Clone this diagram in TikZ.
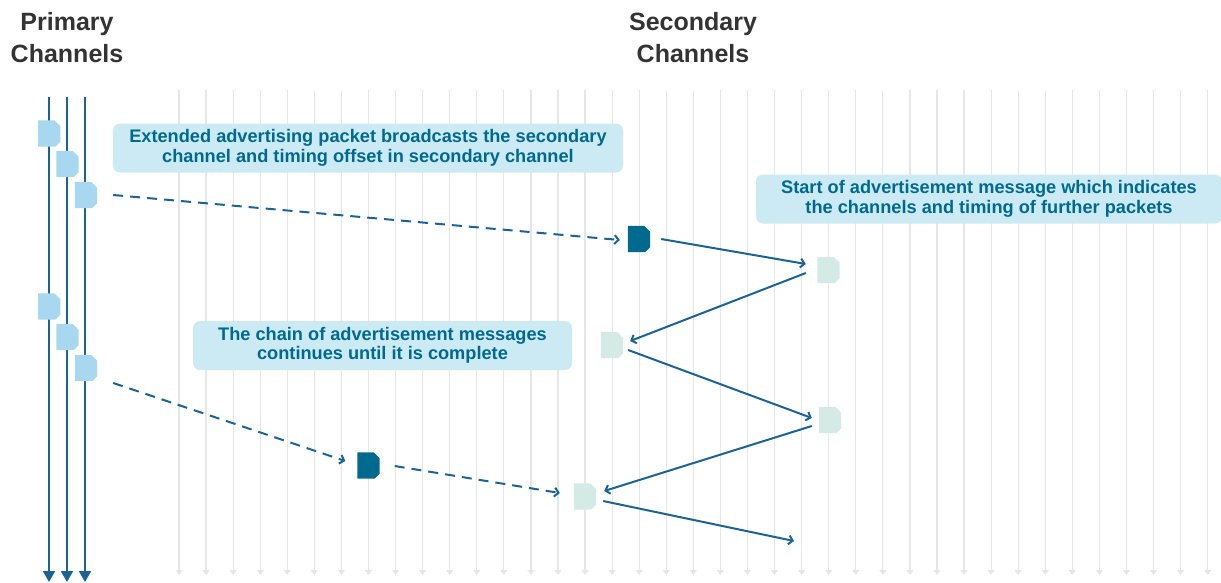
\documentclass[tikz,border=0pt]{standalone}
\usepackage{fontspec}
\setmainfont{Liberation Sans}
\usetikzlibrary{arrows.meta}
\definecolor{hdr}{HTML}{333333}
\definecolor{txtblue}{HTML}{00698F}
\definecolor{boxfill}{HTML}{CCEAF4}
\definecolor{lineblue}{HTML}{1B6397}
\definecolor{gridgrey}{HTML}{E6E6E6}
\definecolor{pktlight}{HTML}{A8D8F0}
\definecolor{pktgreen}{HTML}{D3EAE5}
\definecolor{pktdark}{HTML}{006A8E}
\begin{document}
\begin{tikzpicture}[x=1pt,y=-1pt,
  pkt/.style={rectangle, inner sep=0pt, minimum width=22pt, minimum height=26pt, draw=none},
  gridline/.style={draw=gridgrey, line width=1.2pt, -{Triangle[length=5pt,width=7pt]}},
  primline/.style={draw=lineblue, line width=2pt, -{Triangle[length=11pt,width=12pt]}},
  msg/.style={draw=lineblue, line width=2pt, -{Straight Barb[length=4pt,width=9pt]}},
  dmsg/.style={msg, dash pattern=on 10pt off 7pt},
  note/.style={fill=boxfill, rounded corners=7pt, text=txtblue, font=\bfseries\fontsize{18.2}{19.5}\selectfont,
    align=center, inner sep=0pt, minimum height=49pt},
  header/.style={text=hdr, font=\bfseries\fontsize{25}{32}\selectfont, align=center}
]
\useasboundingbox (0,0) rectangle (1221,582);

% headers
\node[header] (hp) at (67,38) {Primary\\Channels};
\node[header] (hs) at (693,38) {Secondary\\Channels};

% grid lines
\foreach \i in {0,...,38} {
  \coordinate (gt\i) at ({179+27.07*\i},90);
  \coordinate (gb\i) at ({179+27.07*\i},575);
  \draw[gridline] (gt\i) -- (gb\i);
}

% primary channel lines
\foreach \x [count=\k] in {49,67,85} {
  \coordinate (pt\k) at (\x,97);
  \coordinate (pb\k) at (\x,582);
  \draw[primline] (pt\k) -- (pb\k);
}

% notes
\node[note, minimum width=510pt] (n1) at (368,148) {Extended advertising packet broadcasts the secondary\\channel and timing offset in secondary channel};
\node[note, minimum width=466pt] (n2) at (989,199) {Start of advertisement message which indicates\\the channels and timing of further packets};
\node[note, minimum width=379pt] (n3) at (382.5,345.5) {The chain of advertisement messages\\continues until it is complete};

% packets
\node[pkt] (p1) at (49.25,133.5) {};
\node[pkt] (p2) at (67.5,164) {};
\node[pkt] (p3) at (86,195) {};
\node[pkt] (p4) at (49.25,306.5) {};
\node[pkt] (p5) at (67.5,337) {};
\node[pkt] (p6) at (86,368) {};
\node[pkt] (d1) at (639,239) {};
\node[pkt] (g1) at (828.5,270) {};
\node[pkt] (g2) at (612,345) {};
\node[pkt] (g3) at (830,420) {};
\node[pkt] (d2) at (368.5,465.5) {};
\node[pkt] (g4) at (585,496.5) {};
\coordinate (fend) at (794,541);

\foreach \n/\c in {p1/pktlight,p2/pktlight,p3/pktlight,p4/pktlight,p5/pktlight,p6/pktlight,
                   d1/pktdark,d2/pktdark,g1/pktgreen,g2/pktgreen,g3/pktgreen,g4/pktgreen} {
  \fill[\c] (\n.north west) -- ([shift={(-6,0)}]\n.north east) -- ([shift={(0,6)}]\n.north east)
    -- ([shift={(0,-5)}]\n.south east) -- ([shift={(-5,0)}]\n.south east) -- (\n.south west) -- cycle;
}

% messages
\draw[dmsg] ([shift={(16,0)}]p3.east) -- ([shift={(-8,1)}]d1.west);
\draw[msg] ([shift={(11,0)}]d1.east) -- ([shift={(-11.5,-6)}]g1.west);
\draw[msg] ([shift={(-11.5,3)}]g1.west) -- ([shift={(7,-4)}]g2.east);
\draw[msg] ([shift={(5,5)}]g2.east) -- ([shift={(-7,-2)}]g3.west);
\draw[msg] ([shift={(-7,6)}]g3.west) -- ([shift={(8,-5.5)}]g4.east);
\draw[msg] ([shift={(7,4.5)}]g4.east) -- (fend);
\draw[dmsg] ([shift={(16,15)}]p6.east) -- ([shift={(-12,-4.5)}]d2.west);
\draw[dmsg] ([shift={(15,0.5)}]d2.east) -- ([shift={(-14,-3.5)}]g4.west);
\end{tikzpicture}
\end{document}
